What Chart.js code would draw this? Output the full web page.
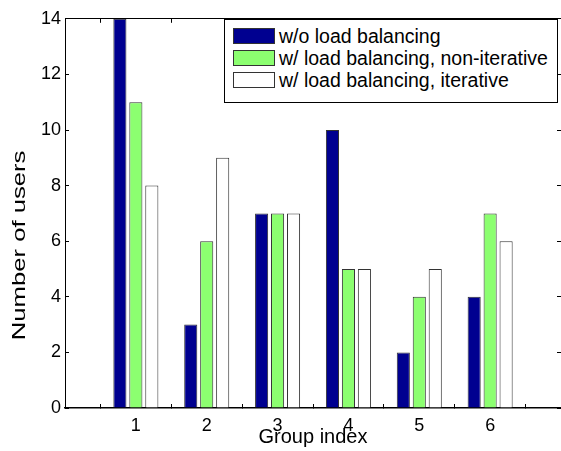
<!DOCTYPE html>
<html>
<head>
<meta charset="utf-8">
<script src="https://cdn.jsdelivr.net/npm/chart.js@4/dist/chart.umd.min.js"></script>
<style>
  body { margin: 0; background: #fff; }
  #wrap { position: relative; width: 561px; height: 451px; overflow: hidden; }
  #legend {
    position: absolute; left: 224px; top: 19px; width: 332px; height: 82px;
    border: 1px solid #000; background: #fff;
    font-family: 'Liberation Sans', Arial, sans-serif; font-size: 19.5px; color: #000;
  }
  .row { position: absolute; left: 8px; height: 17px; line-height: 17px; white-space: nowrap; }
  .sw { display: inline-block; width: 40px; height: 14px; border: 1px solid #333; vertical-align: top; margin-right: 4px; }
</style>
</head>
<body>
<div id="wrap">
  <canvas id="BarChart" width="561" height="451"></canvas>
  <div id="legend"></div>
</div>
<script>
// data
const groups = ['1', '2', '3', '4', '5', '6'];
const groupPos = [1, 2, 3, 4, 5, 6];
const seriesNames = ['w/o load balancing', 'w/ load balancing, non-iterative', 'w/ load balancing, iterative'];
const noBalancing = [14, 3, 7, 10, 2, 4];
const nonIterative = [11, 6, 7, 5, 4, 7];
const iterative = [8, 9, 7, 5, 5, 6];
const yTicks = [0, 2, 4, 6, 8, 10, 12, 14];
const yTitle = 'Number of users';
const xTitle = 'Group index';

const colors = ['#000090', '#8cff70', '#ffffff'];
const font = "'Liberation Sans', Arial, sans-serif";

function points(vals) {
  return vals.map((v, i) => ({x: groupPos[i], y: v}));
}

const data = {
  datasets: [noBalancing, nonIterative, iterative].map((vals, i) => ({
    label: seriesNames[i],
    data: points(vals),
    backgroundColor: colors[i],
    borderColor: '#333',
    borderWidth: 1,
    categoryPercentage: 0.676,
    barPercentage: 0.82
  }))
};

const edge = {display: true, color: '#000', width: 1};
const tickGrid = {drawOnChartArea: false, color: '#000', tickLength: -4, lineWidth: 1};

// the y label in the picture is stretched along its length, so draw it by hand
const yLabel = {
  id: 'yLabel',
  afterDraw(chart) {
    const ctx = chart.ctx;
    const area = chart.chartArea;
    ctx.save();
    ctx.translate(20, (area.top + area.bottom) / 2 + 32);
    ctx.rotate(-Math.PI / 2);
    ctx.scale(1.35, 1);
    ctx.font = '19px ' + font;
    ctx.fillStyle = '#000';
    ctx.textAlign = 'center';
    ctx.textBaseline = 'middle';
    ctx.fillText(yTitle, 0, 0);
    ctx.restore();
  }
};

const config = {
  type: 'bar',
  data: data,
  options: {
    responsive: false,
    animation: false,
    devicePixelRatio: 1,
    layout: {padding: {left: 0, right: -2, top: 11, bottom: 0}},
    plugins: {legend: {display: false}, tooltip: {enabled: false}},
    scales: {
      x: {
        type: 'linear', position: 'bottom', min: 0, max: 7, offset: false,
        border: {display: true, color: '#000', width: 1.5}, grid: tickGrid,
        ticks: {
          stepSize: 1, color: '#000', padding: 11, maxRotation: 0,
          font: {family: font, size: 18},
          callback: v => groupPos.indexOf(v) >= 0 ? groups[groupPos.indexOf(v)] : ''
        },
        title: {display: true, text: xTitle, color: '#000', font: {family: font, size: 20}, padding: {top: 0, bottom: 2}},
        afterFit: s => { s.height = 43; s.paddingLeft = 0; s.paddingRight = 0; }
      },
      x2: {
        type: 'linear', position: 'top', min: 0, max: 7, offset: false,
        border: edge, grid: tickGrid,
        ticks: {display: false, stepSize: 1},
        afterFit: s => { s.height = 0; s.paddingLeft = 0; s.paddingRight = 0; }
      },
      y: {
        min: 0, max: 14, position: 'left',
        border: edge, grid: tickGrid,
        afterBuildTicks: s => { s.ticks = yTicks.map(v => ({value: v})); },
        ticks: {color: '#000', padding: 8, font: {family: font, size: 18}},
        afterFit: s => { s.width = 65; }
      },
      y2: {
        min: 0, max: 14, position: 'right',
        border: edge, grid: tickGrid,
        afterBuildTicks: s => { s.ticks = yTicks.map(v => ({value: v})); },
        ticks: {display: false},
        afterFit: s => { s.width = 0; }
      }
    }
  },
  plugins: [yLabel]
};

const myChart = new Chart(document.getElementById('BarChart'), config);

// legend box built from the datasets
const legend = document.getElementById('legend');
myChart.data.datasets.forEach((ds, i) => {
  const row = document.createElement('div');
  row.className = 'row';
  row.style.top = (8 + i * 22) + 'px';
  row.innerHTML = '<span class="sw" style="background:' + ds.backgroundColor + '"></span>' + ds.label;
  legend.appendChild(row);
});
</script>
</body>
</html>
